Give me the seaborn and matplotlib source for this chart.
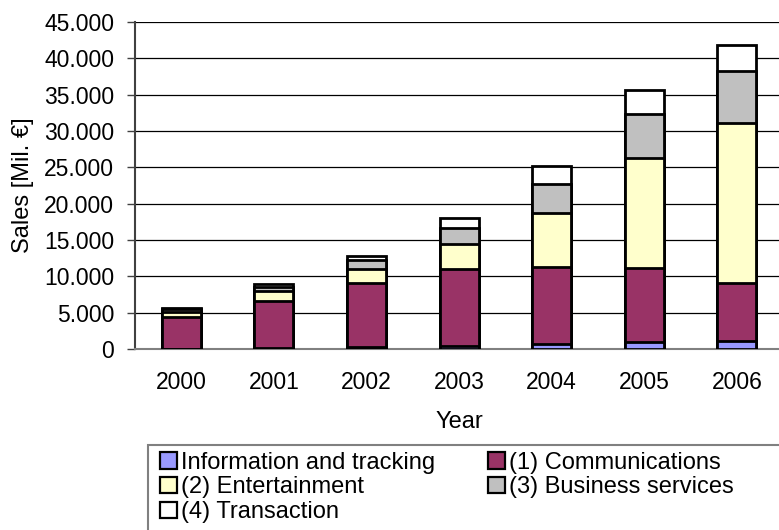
import numpy as np
import pandas as pd
import matplotlib
matplotlib.use("Agg")
import matplotlib.pyplot as plt
import seaborn as sns
from matplotlib.patches import Patch, Rectangle
from matplotlib.ticker import FuncFormatter, FixedLocator

years = ["2000", "2001", "2002", "2003", "2004", "2005", "2006"]
info_tracking = [50, 100, 300, 450, 650, 950, 1050]
communications = [4350, 6500, 8750, 10500, 10600, 10250, 8100]
entertainment = [750, 1400, 1900, 3450, 7500, 15150, 21900]
business = [350, 500, 1300, 2200, 3900, 5950, 7150]
transaction = [200, 400, 550, 1380, 2550, 3400, 3600]

series_names = ["Information and tracking", "(1) Communications", "(2) Entertainment",
                "(3) Business services", "(4) Transaction"]
series_colors = ["#9999FF", "#993366", "#FFFFCC", "#C0C0C0", "#FFFFFF"]

sns.set_style("white")
plt.rcParams["font.family"] = ["Liberation Sans", "DejaVu Sans"]
plt.rcParams["text.color"] = "black"
plt.rcParams["axes.labelcolor"] = "black"
plt.rcParams["xtick.color"] = "black"
plt.rcParams["ytick.color"] = "black"

df = pd.DataFrame({"year": years})
layers = [info_tracking, communications, entertainment, business, transaction]
cum = np.cumsum(np.array(layers), axis=0)

fig = plt.figure(figsize=(7.79, 5.30), dpi=100)
ax = fig.add_axes([0.1733, 0.3415, 0.832, 0.617])

# draw cumulative totals from the top layer down so each sits on top of the previous
for i in range(len(layers) - 1, -1, -1):
    df["val"] = cum[i]
    sns.barplot(data=df, x="year", y="val", order=years, color=series_colors[i],
                saturation=1, width=0.42, edgecolor="black", linewidth=2,
                ax=ax, zorder=3)

ax.set_ylim(0, 45000)
ax.set_xlim(-0.5, 6.5)
ax.yaxis.set_major_locator(FixedLocator(np.arange(0, 45001, 5000)))
ax.yaxis.set_major_formatter(FuncFormatter(lambda v, p: f"{int(v):,}".replace(",", ".")))
ax.yaxis.grid(True, color="black", linewidth=0.9, zorder=0)
ax.set_axisbelow(True)

# ticks between categories on x
ax.set_xticks(range(len(years)))
ax.set_xticklabels(years)
ax.tick_params(axis="x", length=0, pad=16, labelsize=16.5)
ax.set_xticks(np.arange(0.5, 6.0, 1.0), minor=True)
ax.tick_params(axis="x", which="minor", length=6, direction="out", color="#404040", width=1)
ax.tick_params(axis="y", length=6, direction="out", color="#404040", width=1, left=True,
               labelsize=16.5, pad=9)

for s in ["top", "right"]:
    ax.spines[s].set_visible(False)
ax.spines["left"].set_color("#404040")
ax.spines["left"].set_linewidth(1.5)
ax.spines["bottom"].set_color("#808080")
ax.spines["bottom"].set_linewidth(1.5)

ax.set_ylabel("Sales [Mil. €]", labelpad=7, fontsize=17)
ax.set_xlabel("Year", labelpad=12, fontsize=17)

# legend box running off the bottom-right edge
fig.add_artist(Rectangle((0.19, -0.05), 0.9, 0.21, transform=fig.transFigure,
                         facecolor="white", edgecolor="#808080", linewidth=1.5))
handles = [Patch(facecolor=c, edgecolor="black", linewidth=1.6, label=n)
           for n, c in zip(series_names, series_colors)]
leg_kw = dict(loc="upper left", frameon=False, handlelength=0.7, handleheight=0.7,
              handletextpad=0.2, labelspacing=0.12, borderaxespad=0, borderpad=0,
              fontsize=17)
col1 = [0, 2, 4]
col2 = [1, 3]
fig.legend([handles[k] for k in col1], [series_names[k] for k in col1],
           bbox_to_anchor=(160 / 779, 0.148), **leg_kw)
fig.legend([handles[k] for k in col2], [series_names[k] for k in col2],
           bbox_to_anchor=(488 / 779, 0.148), **leg_kw)

fig.savefig("out.png", dpi=100)
